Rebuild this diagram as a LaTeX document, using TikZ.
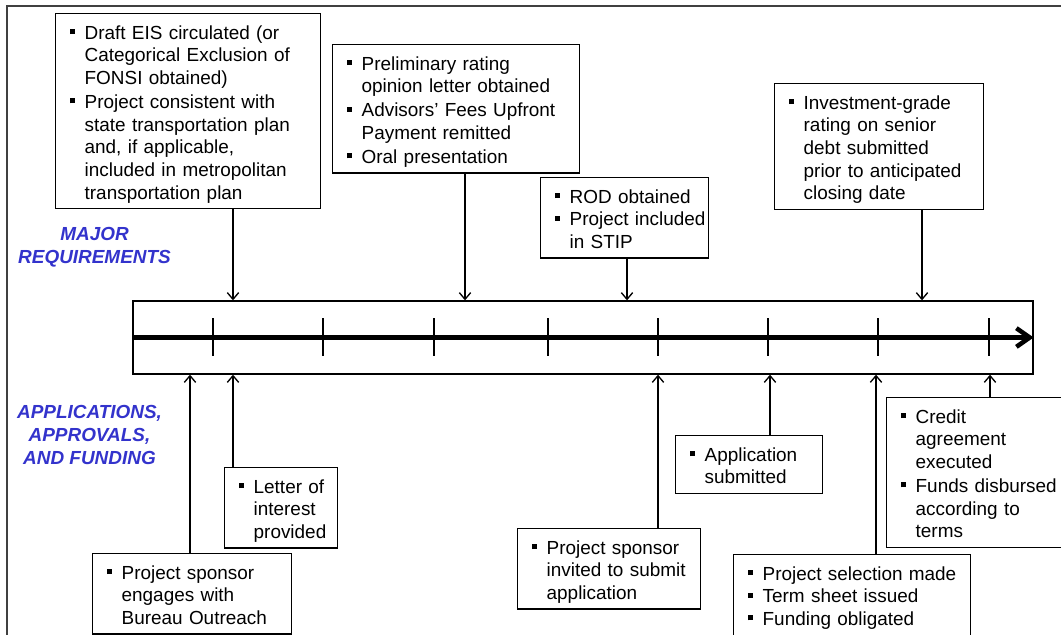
\documentclass[tikz,border=0pt]{standalone}
\usepackage{fontspec}
\setmainfont{Liberation Sans}
\usepackage{xcolor}
\usetikzlibrary{arrows.meta}
\definecolor{labelblue}{RGB}{51,51,204}
\newcommand{\bul}[1]{\par\noindent\makebox[11.25pt][l]{\rule[3.75pt]{3.75pt}{3.75pt}}\begin{tabular}[t]{@{}l@{}}#1\end{tabular}\par}
\tikzstyle{milebox} = [rectangle, draw, line width=1pt, anchor=north west, inner xsep=10.5pt, inner ysep=2.1pt, font=\fontsize{14.2}{17}\selectfont, align=left]
\tikzstyle{sidelabel} = [text=labelblue, font=\fontsize{14.2}{17}\selectfont\bfseries\itshape, align=center]
\tikzstyle{tick} = [line width=1.5pt]
\tikzstyle{axis} = [line width=3.4pt, -{Straight Barb[length=10pt,width=14pt]}]

\begin{document}
\begin{tikzpicture}[->,>={Straight Barb[length=5pt,width=8.5pt]},line width=1pt,x=0.75pt,y=-0.75pt]
  \useasboundingbox (0,0) rectangle (1061,635);
  \draw[-,draw=black!75] (7,6) rectangle (1075,650);

  % major requirements
  \node[milebox, text width=177.75pt] (eis) at (55,13) {\bul{Draft EIS circulated (or\\Categorical Exclusion of\\FONSI obtained)}\bul{Project consistent with\\state transportation plan\\and, if applicable,\\included in metropolitan\\transportation plan}};
  \node[milebox, text width=164.25pt] (rating) at (332,44) {\bul{Preliminary rating\\opinion letter obtained}\bul{Advisors’ Fees Upfront\\Payment remitted}\bul{Oral presentation}};
  \node[milebox, text width=105pt] (rod) at (540,177) {\bul{ROD obtained}\bul{Project included\\in STIP}};
  \node[milebox, text width=135.75pt] (invest) at (774,83) {\bul{Investment-grade\\rating on senior\\debt submitted\\prior to anticipated\\closing date}};

  % applications, approvals, and funding
  \node[milebox, text width=128.25pt] (outreach) at (92,553) {\bul{Project sponsor\\engages with\\Bureau Outreach}};
  \node[milebox, text width=63.75pt] (letter) at (224,467) {\bul{Letter of\\interest\\provided}};
  \node[milebox, text width=116.25pt] (invite) at (517,528) {\bul{Project sponsor\\invited to submit\\application}};
  \node[milebox, text width=89.25pt] (apply) at (675,435) {\bul{Application\\submitted}};
  \node[milebox, text width=156.75pt] (select) at (733,554) {\bul{Project selection made}\bul{Term sheet issued}\bul{Funding obligated\\[8pt]}};
  \node[milebox, text width=115.5pt] (credit) at (886,397) {\bul{Credit\\agreement\\executed}\bul{Funds disbursed\\according to\\terms}};

  \node[sidelabel] (major) at (94.5,247) {MAJOR\\REQUIREMENTS};
  \node[sidelabel] (funding) at (89.5,435) {APPLICATIONS,\\APPROVALS,\\AND FUNDING};

  % timeline
  \node[draw, rectangle, minimum width=675pt, minimum height=54.75pt, inner sep=0pt] (tl) at (583,337.5) {};
  \draw[axis] (tl.west) -- (tl.east);
  \foreach \x in {213,323,434,548,658,768,878,989}
    \draw[tick,-] (\x,318) -- (\x,356);

  \coordinate (xeis) at (233,0);
  \coordinate (xrating) at (465,0);
  \coordinate (xrod) at (627,0);
  \coordinate (xinvest) at (922,0);
  \coordinate (xoutreach) at (190,0);
  \coordinate (xletter) at (233,0);
  \coordinate (xinvite) at (658,0);
  \coordinate (xapply) at (770,0);
  \coordinate (xselect) at (876,0);
  \coordinate (xcredit) at (990,0);

  \path (eis.south -| xeis) edge (tl.north -| xeis);
  \path (rating.south -| xrating) edge (tl.north -| xrating);
  \path (rod.south -| xrod) edge (tl.north -| xrod);
  \path (invest.south -| xinvest) edge (tl.north -| xinvest);
  \path (outreach.north -| xoutreach) edge (tl.south -| xoutreach);
  \path (letter.north -| xletter) edge (tl.south -| xletter);
  \path (invite.north -| xinvite) edge (tl.south -| xinvite);
  \path (apply.north -| xapply) edge (tl.south -| xapply);
  \path (select.north -| xselect) edge (tl.south -| xselect);
  \path (credit.north -| xcredit) edge (tl.south -| xcredit);
\end{tikzpicture}
\end{document}
